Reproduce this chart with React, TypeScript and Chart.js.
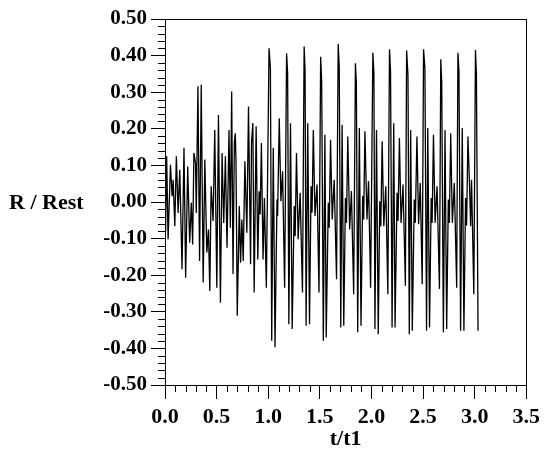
import React, { useEffect, useRef } from "react";
import { Chart, registerables } from "chart.js";

Chart.register(...registerables);

// t/t1 values (x)
const tValues: number[] = [
  0.000, 0.006, 0.016, 0.030, 0.053, 0.069, 0.079, 0.095, 0.110, 0.127,
  0.143, 0.165, 0.184, 0.200, 0.220, 0.239, 0.255, 0.268, 0.280, 0.296,
  0.303, 0.319, 0.335, 0.351, 0.370, 0.386, 0.405, 0.421, 0.434, 0.447,
  0.466, 0.482, 0.502, 0.518, 0.537, 0.553, 0.569, 0.585, 0.601, 0.620,
  0.633, 0.646, 0.659, 0.672, 0.681, 0.688, 0.700, 0.720, 0.732, 0.745,
  0.758, 0.774, 0.793, 0.809, 0.829, 0.838, 0.851, 0.864, 0.883, 0.899,
  0.912, 0.922, 0.934, 0.950, 0.963, 0.982, 1.008,
  1.021, 1.034, 1.049, 1.066, 1.085, 1.091, 1.107, 1.123, 1.139, 1.159,
  1.178, 1.188, 1.200, 1.216, 1.232, 1.252, 1.261, 1.274, 1.290, 1.309, 1.332,
  1.348, 1.357, 1.367, 1.383, 1.400, 1.415, 1.425, 1.437, 1.453, 1.473, 1.492,
  1.508, 1.518, 1.534, 1.549, 1.562, 1.582, 1.591, 1.604, 1.620, 1.639, 1.662,
  1.678, 1.688, 1.703, 1.716, 1.732, 1.748, 1.758, 1.771, 1.789, 1.806, 1.828,
  1.845, 1.854, 1.867, 1.883, 1.899, 1.915, 1.925, 1.937, 1.957, 1.972, 1.992,
  2.014, 2.024, 2.034, 2.049, 2.066, 2.081, 2.091, 2.104, 2.120, 2.139, 2.159,
  2.175, 2.185, 2.200, 2.216, 2.229, 2.248, 2.258, 2.271, 2.287, 2.306, 2.329,
  2.341, 2.354, 2.367, 2.380, 2.396, 2.415, 2.425, 2.441, 2.457, 2.473, 2.492,
  2.505, 2.518, 2.534, 2.546, 2.563, 2.579, 2.588, 2.601, 2.617, 2.636, 2.659,
  2.672, 2.681, 2.697, 2.713, 2.729, 2.745, 2.755, 2.768, 2.784, 2.803, 2.826,
  2.838, 2.848, 2.864, 2.880, 2.896, 2.912, 2.922, 2.935, 2.951, 2.961, 2.970, 2.992,
  3.008, 3.017, 3.033,
];

// R / Rest values (y)
const rValues: number[] = [
  0.010, -0.080, 0.125, -0.102, 0.102, 0.016, 0.061, -0.066, 0.125, -0.030,
  0.088, -0.184, 0.148, -0.207, 0.097, -0.111, -0.002, -0.116, 0.134, 0.106,
  -0.030, 0.316, -0.161, 0.320, -0.220, 0.116, -0.138, -0.075, -0.243, 0.043,
  -0.052, 0.197, -0.234, 0.238, -0.275, 0.134, -0.057, 0.125, -0.125, 0.197,
  -0.070, 0.302, -0.197, 0.161, 0.188, 0.107, -0.311, -0.011, -0.166, -0.048,
  -0.161, 0.111, -0.084, 0.261, -0.170, 0.161, 0.216, -0.247, 0.207, -0.157,
  0.029, -0.034, 0.161, -0.157, 0.011, -0.234, 0.420,
  0.366, -0.379, 0.148, -0.397, 0.007, -0.038, 0.229, 0.002, 0.084, -0.234,
  0.406, 0.352, -0.334, 0.215, -0.347, -0.011, -0.093, 0.134, -0.102, 0.025, -0.247,
  0.425, 0.361, -0.338, 0.215, -0.334, 0.043, -0.029, 0.197, -0.038, 0.048, -0.247,
  0.397, 0.329, -0.379, 0.184, -0.370, -0.002, -0.070, 0.170, -0.048, 0.061, -0.211,
  0.432, 0.370, -0.343, 0.211, -0.338, 0.011, -0.057, 0.179, -0.075, 0.030, -0.252,
  0.379, 0.325, -0.356, 0.202, -0.338, 0.016, -0.048, 0.193, -0.048, 0.057, -0.234,
  0.408, 0.352, -0.347, 0.197, -0.361, 0.002, -0.066, 0.166, -0.066, 0.043, -0.252,
  0.417, 0.357, -0.343, 0.215, -0.343, 0.025, -0.052, 0.175, -0.057, 0.048, -0.229,
  0.414, 0.347, -0.361, 0.197, -0.352, 0.007, -0.057, 0.179, -0.061, 0.052, -0.225,
  0.417, 0.366, -0.352, 0.202, -0.343, 0.011, -0.057, 0.184, -0.057, 0.043, -0.238,
  0.390, 0.329, -0.356, 0.197, -0.347, 0.007, -0.057, 0.188, -0.057, 0.052, -0.234,
  0.408, 0.357, -0.352, 0.202, -0.352, 0.011, -0.064, 0.179, 0.043, -0.066, 0.061, -0.252,
  0.415, 0.352, -0.352,
];

const xMin = 0;
const xMax = 3.5;
const xMajorStep = 0.5;
const xMinorStep = 0.1;
const yMin = -0.5;
const yMax = 0.5;
const yMajorStep = 0.1;
const yMinorStep = 0.02;

const yTitle = "R / Rest";
const xTitle = "t/t1";

const FONT = "'Liberation Serif', 'Times New Roman', serif";

const framePlugin = {
  id: "frame",
  afterDraw(chart: any) {
    const { ctx, chartArea: a, scales } = chart;
    const x = scales.x;
    const y = scales.y;
    ctx.save();
    ctx.strokeStyle = "#000";
    ctx.lineWidth = 1;
    ctx.beginPath();
    const nx = Math.round((xMax - xMin) / xMinorStep);
    for (let i = 1; i < nx; i++) {
      if (i % Math.round(xMajorStep / xMinorStep) === 0) continue;
      const px = Math.round(x.getPixelForValue(xMin + i * xMinorStep)) + 0.5;
      ctx.moveTo(px, a.bottom);
      ctx.lineTo(px, a.bottom + 7);
    }
    const ny = Math.round((yMax - yMin) / yMinorStep);
    for (let i = 1; i < ny; i++) {
      if (i % Math.round(yMajorStep / yMinorStep) === 0) continue;
      const py = Math.round(y.getPixelForValue(yMin + i * yMinorStep)) + 0.5;
      ctx.moveTo(a.left, py);
      ctx.lineTo(a.left - 7, py);
    }
    ctx.stroke();
    ctx.strokeRect(
      Math.round(a.left) + 0.5,
      Math.round(a.top) + 0.5,
      Math.round(a.right - a.left),
      Math.round(a.bottom - a.top)
    );
    ctx.fillStyle = "#000";
    ctx.font = `bold 22px ${FONT}`;
    ctx.textAlign = "left";
    ctx.textBaseline = "middle";
    ctx.fillText(yTitle, 9, y.getPixelForValue(0) + 1);
    ctx.font = `bold 22px ${FONT}`;
    ctx.textAlign = "center";
    ctx.textBaseline = "alphabetic";
    ctx.fillText(xTitle, (a.left + a.right) / 2, 445);
    ctx.restore();
  },
};

export default function App() {
  const ref = useRef<HTMLCanvasElement | null>(null);

  useEffect(() => {
    if (!ref.current) return;
    const points = tValues.map((t, i) => ({ x: t, y: rValues[i] }));
    const chart = new Chart(ref.current, {
      type: "line",
      data: {
        datasets: [
          {
            data: points,
            borderColor: "#000",
            borderWidth: 1.3,
            pointRadius: 0,
            tension: 0,
            fill: false,
          },
        ],
      },
      options: {
        animation: false,
        responsive: false,
        events: [],
        layout: { padding: { top: 19, right: 15, left: 0, bottom: 0 } },
        plugins: {
          legend: { display: false },
          tooltip: { enabled: false },
        },
        scales: {
          x: {
            type: "linear",
            min: xMin,
            max: xMax,
            ticks: {
              stepSize: xMajorStep,
              autoSkip: false,
              maxRotation: 0,
              padding: 5,
              color: "#000",
              font: { family: FONT, size: 22, weight: "bold" },
              callback: (v: any) => Number(v).toFixed(1),
            },
            grid: {
              drawOnChartArea: false,
              drawTicks: true,
              tickLength: 14,
              color: "#000",
            },
            border: { display: true, color: "#000", width: 1 },
            afterFit: (s: any) => {
              s.height = 70;
            },
          },
          y: {
            type: "linear",
            min: yMin,
            max: yMax,
            ticks: {
              stepSize: yMajorStep,
              autoSkip: false,
              padding: 4,
              color: "#000",
              font: { family: FONT, size: 21, weight: "bold" },
              callback: (v: any) => {
                const n = Number(v);
                return Math.abs(n) < 1e-9 ? "0.00" : n.toFixed(2);
              },
            },
            grid: {
              drawOnChartArea: false,
              drawTicks: true,
              tickLength: 14,
              color: "#000",
            },
            border: { display: true, color: "#000", width: 1 },
            afterFit: (s: any) => {
              s.width = 165;
            },
          },
        },
      },
      plugins: [framePlugin],
    });
    return () => chart.destroy();
  }, []);

  return (
    <div style={{ position: "fixed", left: 0, top: 0, width: 545, height: 455, background: "#fff" }}>
      <canvas ref={ref} width={545} height={455} style={{ display: "block", width: 545, height: 455 }} />
    </div>
  );
}
